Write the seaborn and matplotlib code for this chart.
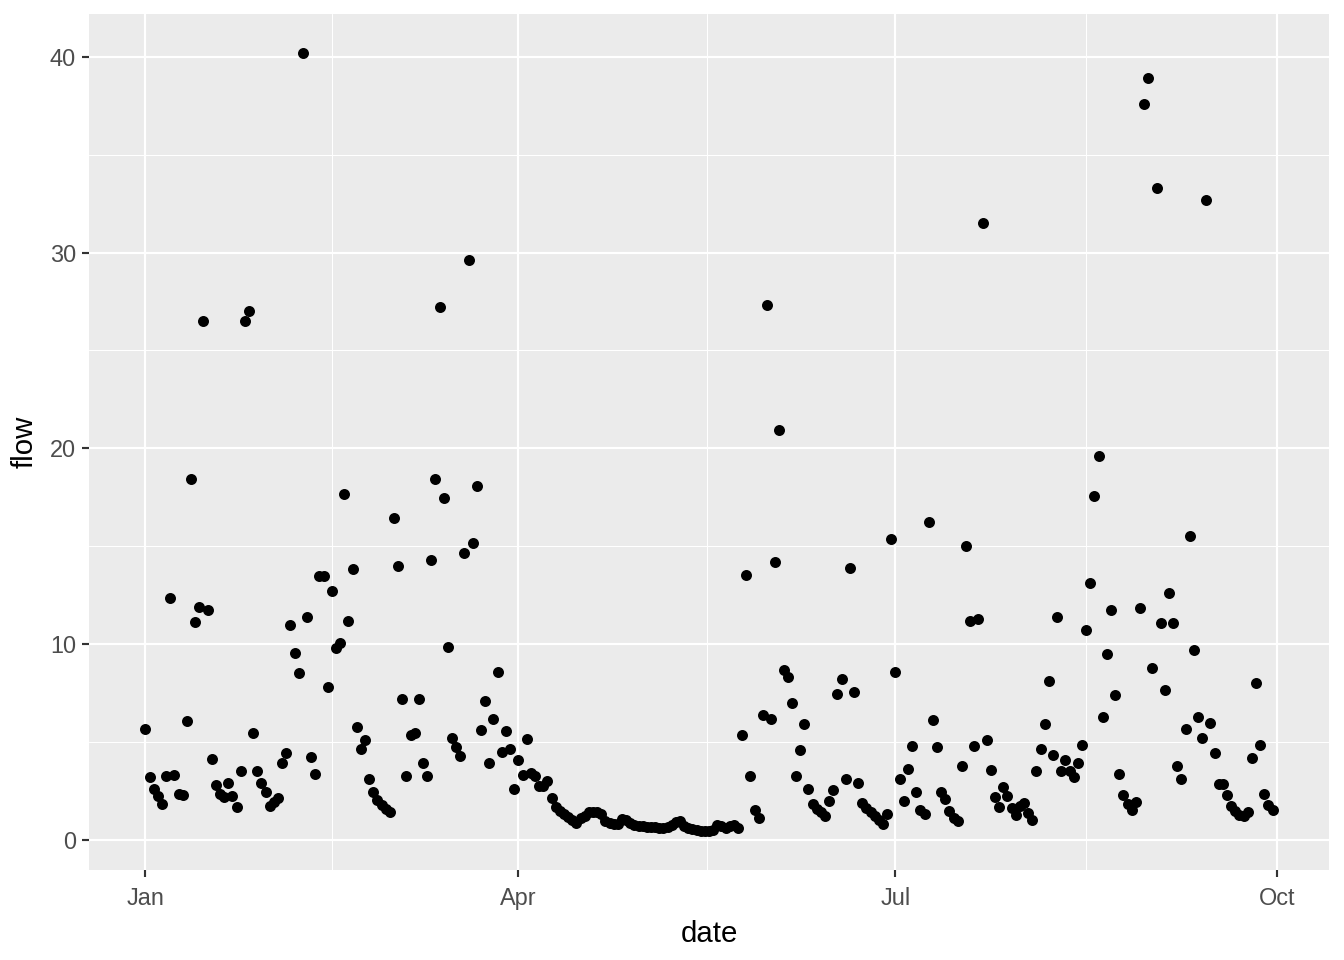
import pandas as pd
import seaborn as sns
import matplotlib
matplotlib.use("Agg")
from matplotlib import pyplot as plt
import matplotlib.dates as mdates
from matplotlib.ticker import FixedLocator

start_date = "2021-01-01"
x_label = "date"
y_label = "flow"
tick_months = [1, 4, 7, 10]

# daily flow, Jan 1 .. Sep 30
flow = [
    5.65, 3.2, 2.6, 2.22, 1.83, 3.27, 12.37, 3.32, 2.36, 2.3,
    6.07, 18.42, 11.11, 11.92, 26.5, 11.75, 4.14, 2.82, 2.36, 2.17,
    2.93, 2.22, 1.7, 3.5, 26.5, 27.0, 5.45, 3.5, 2.93, 2.43,
    1.75, 1.95, 2.14, 3.95, 4.46, 10.96, 9.57, 8.5, 40.2, 11.41,
    4.22, 3.37, 13.5, 13.5, 7.8, 12.69, 9.8, 10.05, 17.66, 11.2,
    13.86, 5.79, 4.63, 5.1, 3.12, 2.47, 2.05, 1.8, 1.6, 1.45,
    16.45, 14.01, 7.19, 3.27, 5.36, 5.45, 7.19, 3.95, 3.27, 14.32,
    18.42, 27.2, 17.46, 9.84, 5.22, 4.77, 4.29, 14.67, 29.6, 15.18,
    18.08, 5.61, 7.09, 3.95, 6.17, 8.57, 4.51, 5.58, 4.65, 2.61,
    4.1, 3.3, 5.15, 3.4, 3.25, 2.75, 2.75, 3.0, 2.15, 1.7,
    1.5, 1.3, 1.15, 1.0, 0.85, 1.1, 1.2, 1.4, 1.45, 1.45,
    1.3, 0.95, 0.85, 0.8, 0.8, 1.05, 1.0, 0.85, 0.75, 0.72,
    0.7, 0.68, 0.65, 0.65, 0.62, 0.62, 0.65, 0.75, 0.9, 0.95,
    0.7, 0.6, 0.55, 0.5, 0.45, 0.45, 0.45, 0.5, 0.75, 0.7,
    0.6, 0.7, 0.75, 0.6, 5.35, 13.55, 3.27, 1.55, 1.1, 6.4,
    27.3, 6.17, 14.2, 20.95, 8.7, 8.3, 7.0, 3.27, 4.6, 5.92,
    2.6, 1.85, 1.6, 1.4, 1.2, 2.0, 2.55, 7.45, 8.2, 3.1,
    13.9, 7.58, 2.93, 1.88, 1.65, 1.45, 1.2, 1.0, 0.8, 1.32,
    15.37, 8.6, 3.12, 2.0, 3.63, 4.8, 2.47, 1.55, 1.3, 16.25,
    6.12, 4.73, 2.44, 2.1, 1.46, 1.12, 0.95, 3.78, 15.03, 11.2,
    4.8, 11.26, 31.5, 5.1, 3.58, 2.2, 1.66, 2.7, 2.25, 1.63,
    1.29, 1.71, 1.88, 1.37, 1.03, 3.5, 4.65, 5.92, 8.1, 4.34,
    11.41, 3.53, 4.09, 3.53, 3.19, 3.95, 4.85, 10.7, 13.1, 17.57,
    19.6, 6.27, 9.52, 11.76, 7.4, 3.37, 2.3, 1.83, 1.54, 1.93,
    11.86, 37.6, 38.9, 8.77, 33.3, 11.06, 7.65, 12.59, 11.06, 3.78,
    3.12, 5.66, 15.54, 9.69, 6.26, 5.19, 32.7, 5.95, 4.46, 2.85,
    2.85, 2.3, 1.75, 1.46, 1.29, 1.24, 1.41, 4.17, 8.04, 4.85,
    2.36, 1.8, 1.54,
]

dates = pd.date_range(start_date, periods=len(flow), freq="D")
df = pd.DataFrame({"date": dates, "flow": flow})

sns.set_theme(style="darkgrid")
plt.rcParams["font.family"] = ["Liberation Sans", "DejaVu Sans"]

fig = plt.figure(figsize=(7, 5), dpi=192)
ax = fig.add_axes([89 / 1344, 90 / 960, 1240 / 1344, 856 / 960])
ax.set_facecolor("#EBEBEB")

sns.scatterplot(data=df, x="date", y="flow", color="black", s=17,
                linewidth=0, ax=ax, zorder=3)
ax.margins(x=0.05, y=0.05)

# major ticks at quarter months, minor halfway between (ggplot style)
major = pd.to_datetime([f"2021-{m:02d}-01" for m in tick_months])
major_num = mdates.date2num(major)
minor_num = [(a + b) / 2 for a, b in zip(major_num[:-1], major_num[1:])]
ax.xaxis.set_major_locator(FixedLocator(major_num))
ax.xaxis.set_major_formatter(mdates.DateFormatter("%b"))
ax.xaxis.set_minor_locator(FixedLocator(minor_num))
ax.set_yticks([0, 10, 20, 30, 40])
ax.yaxis.set_minor_locator(FixedLocator([5, 15, 25, 35]))

ax.grid(which="major", color="white", linewidth=0.8)
ax.grid(which="minor", color="white", linewidth=0.4)
ax.set_axisbelow(True)
for s in ax.spines.values():
    s.set_visible(False)

ax.tick_params(which="major", length=2.75, width=0.8, color="#333333",
               labelsize=8.8, labelcolor="#4D4D4D", pad=2.2,
               bottom=True, left=True)
ax.tick_params(axis="x", which="major", pad=3.5)
ax.tick_params(which="minor", length=0, bottom=False, left=False)

ax.set_xlabel(x_label, fontsize=11, color="black", labelpad=4)
ax.set_ylabel(y_label, fontsize=11, color="black", labelpad=4)

fig.savefig("out.png", dpi=192)
